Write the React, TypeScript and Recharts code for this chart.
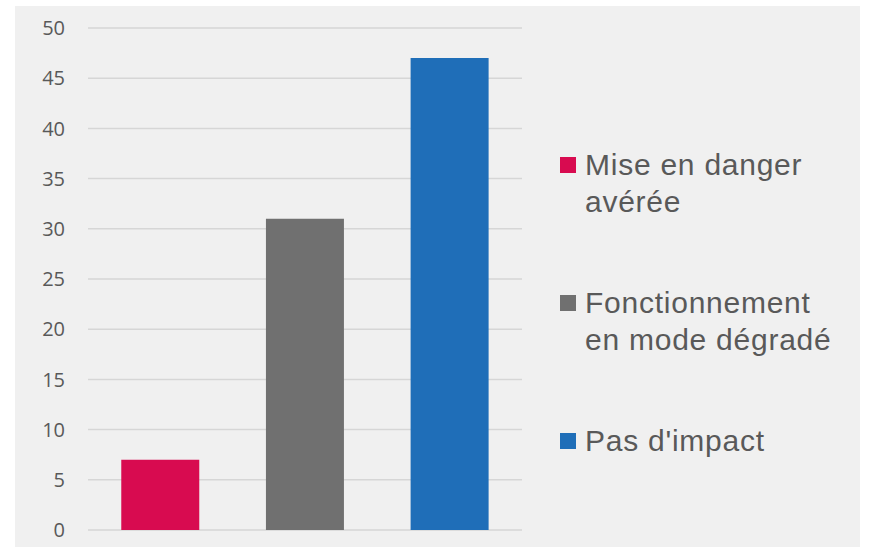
import React from "react";
import { BarChart, Bar, XAxis, YAxis, CartesianGrid, Cell } from "recharts";

const categories = ["Mise en danger avérée", "Fonctionnement en mode dégradé", "Pas d'impact"];
const legendLines = [["Mise en danger", "avérée"], ["Fonctionnement", "en mode dégradé"], ["Pas d'impact"]];
const values = [7, 31, 47];
const colors = ["#D80B50", "#707070", "#1F6EB8"];
const yTicks = [0, 5, 10, 15, 20, 25, 30, 35, 40, 45, 50];

const data = categories.map((c, i) => ({ name: c, value: values[i] }));

export default function App() {
  return (
    <div style={{ position: "absolute", left: 0, top: 0, width: 869, height: 547, background: "#ffffff" }}>
      <div style={{ position: "absolute", left: 15, top: 6, width: 845, height: 541, background: "#F0F0F0" }} />
      <div style={{ position: "absolute", left: 0, top: 0 }}>
        <BarChart
          width={869}
          height={547}
          data={data}
          margin={{ top: 28, right: 347, bottom: 17, left: 0 }}
          barCategoryGap="23%"
        >
          <CartesianGrid horizontal vertical={false} stroke="#D6D6D6" strokeWidth={1.5} />
          <XAxis dataKey="name" hide />
          <YAxis
            width={88}
            domain={[0, 50]}
            ticks={yTicks}
            axisLine={false}
            tickLine={false}
            tickSize={0}
            tickMargin={23}
            interval={0}
            tick={{ fill: "#595959", fontSize: 20, fontFamily: "'Open Sans', sans-serif" }}
          />
          <Bar dataKey="value" isAnimationActive={false}>
            {data.map((d, i) => (
              <Cell key={d.name} fill={colors[i]} />
            ))}
          </Bar>
        </BarChart>
      </div>
      <div
        style={{
          position: "absolute",
          left: 560,
          top: 146,
          display: "flex",
          flexDirection: "column",
          gap: 64,
          fontFamily: "'Liberation Sans', Arial, sans-serif",
          fontSize: 30,
          letterSpacing: "0.75px",
          lineHeight: "37px",
          color: "#595959",
        }}
      >
        {legendLines.map((lines, i) => (
          <div key={i} style={{ display: "flex", alignItems: "flex-start" }}>
            <div style={{ width: 16, height: 16, background: colors[i], marginTop: 10.5, marginRight: 9, flex: "none" }} />
            <div style={{ whiteSpace: "nowrap" }}>
              {lines.map((l, j) => (
                <div key={j}>{l}</div>
              ))}
            </div>
          </div>
        ))}
      </div>
    </div>
  );
}
